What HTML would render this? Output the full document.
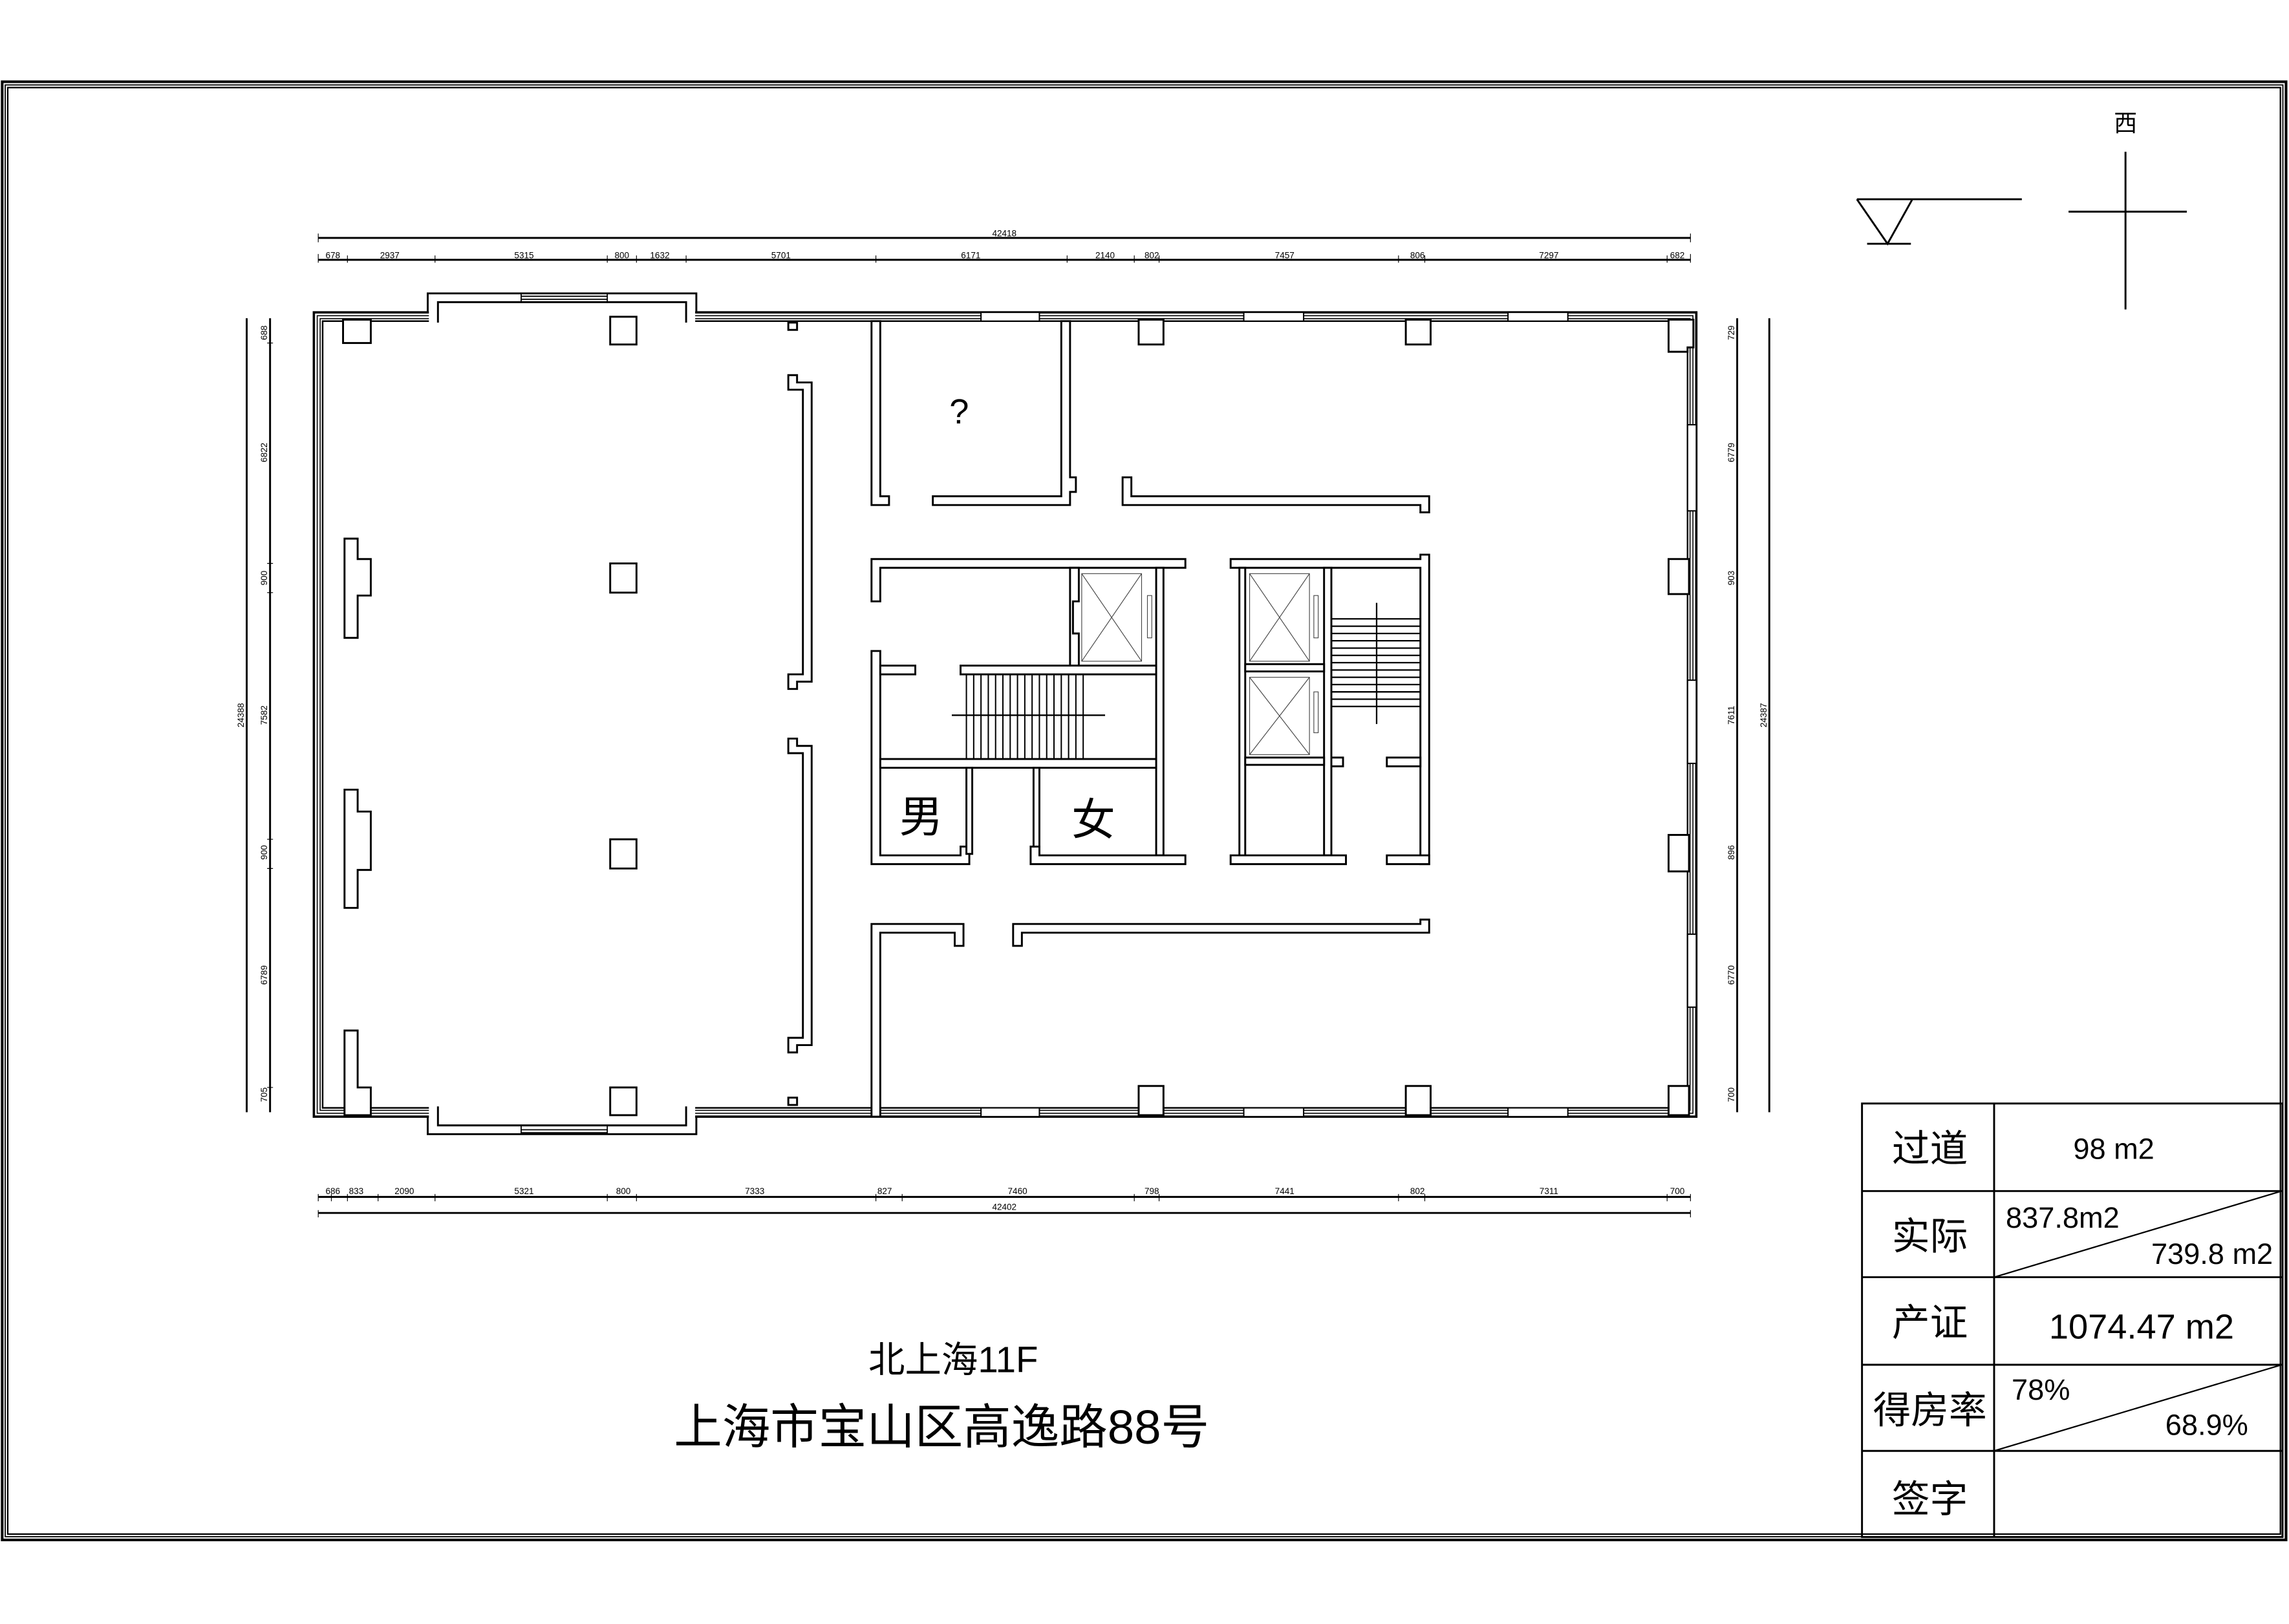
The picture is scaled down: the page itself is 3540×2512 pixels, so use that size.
<!DOCTYPE html>
<html><head><meta charset="utf-8"><style>
html,body{margin:0;padding:0;background:#fff;}
svg{display:block;}
.w{fill:#fff;stroke:#000;stroke-width:1.3;}
.l{stroke:#000;stroke-width:1.3;fill:none;}
.t{stroke:#000;stroke-width:0.5;fill:none;}
.d{font-family:"Liberation Sans",sans-serif;font-size:6px;fill:#000;}
.c{font-family:"Liberation Sans","Noto Sans CJK SC",sans-serif;fill:#000;}
</style></head><body>
<svg width="3540" height="2512" viewBox="0 0 1568 1112.6" preserveAspectRatio="none" xmlns="http://www.w3.org/2000/svg">
<rect x="1.5" y="56" width="1564.5" height="999" fill="none" stroke="#000" stroke-width="1.8"/>
<rect x="3.6" y="58.2" width="1560.2" height="994.6" fill="none" stroke="#000" stroke-width="0.8"/>
<rect x="5.3" y="60" width="1556.8" height="991" fill="none" stroke="#000" stroke-width="1"/>

<line class="l" x1="1272" y1="136.5" x2="1385" y2="136.5"/>
<polyline class="l" points="1272,136.5 1293,167 1310,136.5"/>
<line class="l" x1="1279" y1="167" x2="1309" y2="167"/>
<line class="l" x1="1456" y1="104" x2="1456" y2="212"/>
<line class="l" x1="1417" y1="145" x2="1498" y2="145"/>
<text class="c" x="1456" y="90" font-size="16" text-anchor="middle">西</text>

<line class="l" x1="218" y1="163" x2="1158" y2="163"/>
<line class="l" x1="218" y1="178" x2="1158" y2="178"/>
<g class="t">
<path d="M218,160v6M1158,160v6"/>
<path d="M218,174v6M238,175v5M298,175v5M416,175v5M436,175v5M470,175v5M600,175v5M731,175v5M777,175v5M794,175v5M958,175v5M976,175v5M1142,175v5M1158,174v6"/>
</g>
<text class="d" x="688" y="162" text-anchor="middle">42418</text>
<g class="d" text-anchor="middle">
<text x="228" y="177">678</text><text x="267" y="177">2937</text><text x="359" y="177">5315</text><text x="426" y="177">800</text><text x="452" y="177">1632</text><text x="535" y="177">5701</text><text x="665" y="177">6171</text><text x="757" y="177">2140</text><text x="789" y="177">802</text><text x="880" y="177">7457</text><text x="971" y="177">806</text><text x="1061" y="177">7297</text><text x="1149" y="177">682</text>
</g>
<line class="l" x1="218" y1="820" x2="1158" y2="820"/>
<line class="l" x1="218" y1="831" x2="1158" y2="831"/>
<g class="t"><path d="M218,818v5M227,818v5M238,818v5M259,818v5M298,818v5M416,818v5M436,818v5M600,818v5M618,818v5M777,818v5M794,818v5M958,818v5M976,818v5M1142,818v5M1158,818v5M218,829v5M1158,829v5"/></g>
<g class="d" text-anchor="middle">
<text x="228" y="818">686</text><text x="244" y="818">833</text><text x="277" y="818">2090</text><text x="359" y="818">5321</text><text x="427" y="818">800</text><text x="517" y="818">7333</text><text x="606" y="818">827</text><text x="697" y="818">7460</text><text x="789" y="818">798</text><text x="880" y="818">7441</text><text x="971" y="818">802</text><text x="1061" y="818">7311</text><text x="1149" y="818">700</text>
<text x="688" y="829">42402</text>
</g>
<line class="l" x1="169" y1="218" x2="169" y2="762"/>
<line class="l" x1="185" y1="218" x2="185" y2="762"/>
<g class="t"><path d="M183,235h4M183,386h4M183,406h4M183,575h4M183,595h4M183,745h4"/></g>
<g class="d" text-anchor="middle">
<text transform="translate(167,490) rotate(-90)">24388</text>
<text transform="translate(183,228) rotate(-90)">688</text><text transform="translate(183,310) rotate(-90)">6822</text><text transform="translate(183,396) rotate(-90)">900</text><text transform="translate(183,490) rotate(-90)">7582</text><text transform="translate(183,584) rotate(-90)">900</text><text transform="translate(183,668) rotate(-90)">6789</text><text transform="translate(183,750) rotate(-90)">705</text>
</g>
<line class="l" x1="1190" y1="218" x2="1190" y2="762"/>
<line class="l" x1="1212" y1="218" x2="1212" y2="762"/>
<g class="d" text-anchor="middle">
<text transform="translate(1210,490) rotate(-90)">24387</text>
<text transform="translate(1188,228) rotate(-90)">729</text><text transform="translate(1188,310) rotate(-90)">6779</text><text transform="translate(1188,396) rotate(-90)">903</text><text transform="translate(1188,490) rotate(-90)">7611</text><text transform="translate(1188,584) rotate(-90)">896</text><text transform="translate(1188,668) rotate(-90)">6770</text><text transform="translate(1188,750) rotate(-90)">700</text>
</g>

<rect x="215" y="214" width="947" height="551" fill="none" stroke="#000" stroke-width="1.6"/>
<rect x="217.3" y="216.3" width="942.4" height="546.4" fill="none" stroke="#000" stroke-width="0.7"/>
<rect x="219.3" y="218.3" width="938.4" height="542.4" fill="none" stroke="#000" stroke-width="0.7"/>
<rect x="221" y="220" width="935" height="539" fill="none" stroke="#000" stroke-width="1.1"/>
<g fill="#fff" stroke="#000" stroke-width="0.9">
<rect x="672" y="214" width="40" height="6"/><rect x="852" y="214" width="41" height="6"/><rect x="1033" y="214" width="41" height="6"/>
<rect x="672" y="759" width="40" height="6"/><rect x="852" y="759" width="41" height="6"/><rect x="1033" y="759" width="41" height="6"/>
<rect x="1156" y="291" width="6" height="59"/><rect x="1156" y="466" width="6" height="57"/><rect x="1156" y="640" width="6" height="50"/>
</g>
<rect x="293.8" y="212" width="182.4" height="10" fill="#fff"/>
<rect x="293.8" y="757" width="182.4" height="10" fill="#fff"/>
<path class="l" d="M293,214V201H477V214M300,221V207H470V221"/>
<path class="l" d="M293,765V777H477V765M300,758V771H470V758"/>
<path d="M357,203h59M357,205h59M357,774h59M357,776h59" stroke="#000" stroke-width="0.8"/>
<line x1="357" y1="201" x2="357" y2="207" stroke="#000" stroke-width="0.8"/><line x1="416" y1="201" x2="416" y2="207" stroke="#000" stroke-width="0.8"/>
<line x1="357" y1="771" x2="357" y2="777" stroke="#000" stroke-width="0.8"/><line x1="416" y1="771" x2="416" y2="777" stroke="#000" stroke-width="0.8"/>

<g class="w">
<rect x="235" y="219" width="19" height="16"/>
<rect x="418" y="217" width="18" height="19"/>
<rect x="418" y="386" width="18" height="20"/>
<rect x="418" y="575" width="18" height="20"/>
<rect x="418" y="745" width="18" height="19"/>
<path d="M236,369H245V383H254V408H245V437H236Z"/>
<path d="M236,541H245V556H254V596H245V622H236Z"/>
<path d="M236,706H245V745H254V764H236Z"/>
<rect x="780" y="219" width="17" height="17"/>
<rect x="963" y="219" width="17" height="17"/>
<path d="M1143,219H1160V238H1156V241H1143Z"/>
<rect x="1143" y="383" width="14" height="24"/>
<rect x="1143" y="572" width="14" height="25"/>
<rect x="780" y="744" width="17" height="20"/>
<rect x="963" y="744" width="17" height="20"/>
<rect x="1143" y="744" width="14" height="20"/>
<rect x="540" y="221" width="6" height="5"/>
<rect x="540" y="752" width="6" height="5"/>
<path d="M540,257H546V262H556V467H546V472H540V462H550V267H540Z"/>
<path d="M540,506H546V511H556V716H546V721H540V711H550V516H540Z"/>

<path d="M597,220H603V340H609V346H597Z"/>
<path d="M639,340H727V220H733V327H737V337H733V346H639Z"/>
<path d="M769,327H775V340H979V351H973V346H769Z"/>

<path d="M597,383H812V389H603V412H597Z"/>
<path d="M597,446H603V586H658V580H664V592H597Z"/>
<rect x="603" y="456" width="24" height="6"/>
<path d="M733,389H739V412H735V434H739V456H733Z"/>
<rect x="792" y="389" width="5" height="197"/>
<rect x="658" y="456" width="134" height="6"/>
<rect x="603" y="520" width="189" height="6"/>
<rect x="662" y="526" width="4" height="59"/>
<rect x="708" y="526" width="4" height="59"/>
<path d="M706,580H712V586H812V592H706Z"/>

<path d="M843,383H973V380H979V592H973V389H843Z"/>
<path d="M849,389H853V588H849Z"/>
<rect x="907" y="389" width="5" height="197"/>
<rect x="853" y="455" width="54" height="5"/>
<rect x="853" y="519" width="54" height="5"/>
<rect x="912" y="519" width="8" height="6"/>
<rect x="950" y="519" width="23" height="6"/>
<path d="M843,586H922V592H843Z"/>
<path d="M950,586H979V592H950Z"/>

<path d="M597,633H660V648H654V639H603V765H597Z"/>
<path d="M694,633H700V633H973V630H979V639H700V648H694Z"/>
</g>

<g stroke="#444" stroke-width="0.5" fill="none">
<rect x="741" y="393" width="41" height="60"/><path d="M741,393L782,453M782,393L741,453"/>
<rect x="856" y="393" width="41" height="60"/><path d="M856,393L897,453M897,393L856,453"/>
<rect x="856" y="464" width="41" height="53"/><path d="M856,464L897,517M897,464L856,517"/>
<rect x="786" y="408" width="3" height="29"/>
<rect x="900" y="408" width="3" height="29"/>
<rect x="900" y="474" width="3" height="28"/>
</g>
<g stroke="#000" stroke-width="0.9">
<path d="M662,462V520M667,462V520M672,462V520M677,462V520M682,462V520M687,462V520M692,462V520M697,462V520M702,462V520M707,462V520M712,462V520M717,462V520M722,462V520M727,462V520M732,462V520M737,462V520M742,462V520"/>
<path d="M652,490H757" stroke-width="1.1"/>
</g>
<g stroke="#000" stroke-width="1">
<path d="M912,424H973M912,429H973M912,434H973M912,439H973M912,444H973M912,449H973M912,454H973M912,459H973M912,464H973M912,469H973M912,474H973M912,479H973M912,484H973"/>
<path d="M943,413V496"/>
</g>

<text class="c" x="657" y="290" font-size="24" text-anchor="middle" font-family="Liberation Sans">?</text>
<text class="c" x="631" y="570" font-size="30" text-anchor="middle">男</text>
<text class="c" x="749" y="572" font-size="30" text-anchor="middle">女</text>

<text class="c" x="653" y="940" font-size="25" text-anchor="middle">北上海11F</text>
<text class="c" x="645" y="989" font-size="33" text-anchor="middle">上海市宝山区高逸路88号</text>

<g stroke="#000" stroke-width="1.3" fill="none">
<rect x="1275.5" y="756" width="288" height="297"/>
<path d="M1366,756V1053M1275,816H1564M1275,875H1564M1275,935H1564M1275,994H1564"/>
<path d="M1366,875L1563,816M1366,994L1563,935" stroke-width="1"/>
</g>
<g class="c" font-size="26" text-anchor="middle">
<text x="1322" y="796">过道</text>
<text x="1322" y="856">实际</text>
<text x="1322" y="915">产证</text>
<text x="1322" y="975">得房率</text>
<text x="1322" y="1036">签字</text>
</g>
<g class="c" font-family="Liberation Sans">
<text x="1448" y="794" font-size="20" text-anchor="middle">98 m2</text>
<text x="1374" y="841" font-size="20">837.8m2</text>
<text x="1557" y="866" font-size="20" text-anchor="end">739.8 m2</text>
<text x="1467" y="917" font-size="24" text-anchor="middle">1074.47 m2</text>
<text x="1378" y="959" font-size="20">78%</text>
<text x="1540" y="983" font-size="20" text-anchor="end">68.9%</text>
</g>
</svg>
</body></html>
